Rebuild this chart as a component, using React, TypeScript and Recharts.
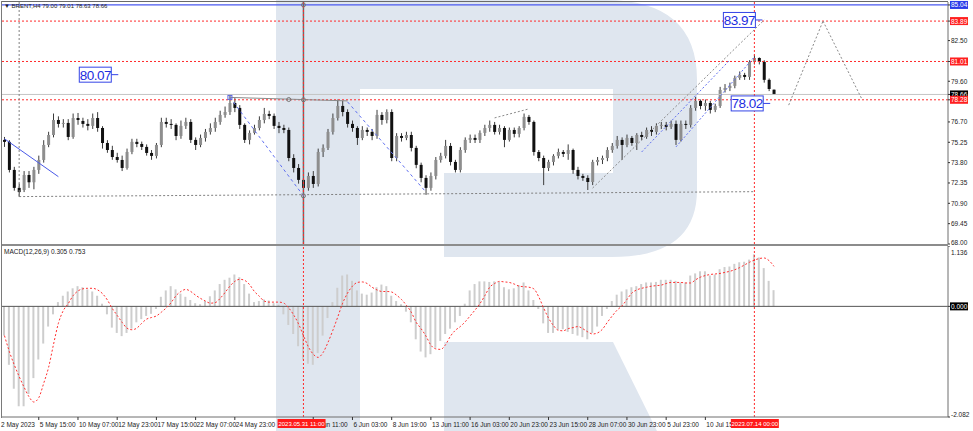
import React from 'react';
import { ComposedChart, Bar, Line, XAxis, YAxis, ReferenceLine, ReferenceDot } from 'recharts';

const FONT = '"Liberation Sans", Arial, sans-serif';
const W = 973;

// BRENT candles (one per 8h, 2 May – 14 Jul 2023)
const openP = [
  75.42, 75.28, 73.28, 72.0, 71.85, 72.92, 72.4, 73.28, 73.99, 75.06,
  75.77, 76.84, 76.56, 76.63, 75.63, 76.98, 76.77, 76.56, 76.42, 76.98,
  76.27, 75.2, 74.7, 74.2, 73.99, 73.42, 74.56, 75.28, 75.13, 74.92,
  74.49, 74.28, 75.06, 76.7, 76.56, 76.49, 75.7, 76.42, 76.7, 75.42,
  75.06, 75.56, 75.99, 76.27, 76.7, 77.2, 77.41, 78.05, 77.7, 76.49,
  75.42, 75.92, 76.27, 76.84, 77.27, 77.13, 76.42, 76.27, 76.13, 74.13,
  73.42, 72.57, 72.0, 72.85, 72.28, 74.56, 74.85, 75.99, 76.98, 77.84,
  77.41, 76.56, 76.27, 75.56, 76.13, 75.99, 75.7, 77.2, 76.84, 77.41,
  74.13, 75.7, 75.56, 75.77, 74.85, 73.64, 72.71, 72.0, 72.85, 73.99,
  74.28, 74.99, 73.85, 73.28, 74.7, 75.42, 75.56, 75.42, 75.92, 76.27,
  76.49, 75.99, 76.27, 75.42, 76.13, 75.85, 76.27, 77.06, 76.7, 74.56,
  74.13, 73.42, 73.85, 74.28, 74.56, 74.42, 74.7, 73.28, 72.85, 72.71,
  72.42, 73.85, 73.99, 74.13, 74.7, 74.99, 75.42, 75.06, 75.56, 75.2,
  75.77, 75.63, 76.13, 75.99, 76.42, 76.49, 76.35, 76.56, 75.42, 76.56,
  76.49, 77.7, 78.2, 77.84, 78.05, 77.56, 77.84, 78.98, 79.12, 79.27,
  79.84, 80.05, 79.91, 80.98, 81.26, 80.98, 79.7, 79.0,
];
const highP = [
  75.63, 75.4, 73.5, 72.3, 73.2, 73.2, 73.5, 74.3, 75.4, 76.0,
  77.3, 77.1, 76.9, 76.9, 77.3, 77.34, 77.0, 76.9, 77.3, 77.4,
  76.4, 75.4, 75.0, 74.5, 74.3, 74.8, 75.5, 75.5, 75.3, 75.1,
  74.7, 75.2, 77.0, 77.0, 76.9, 76.6, 76.8, 77.0, 76.9, 75.6,
  75.8, 76.2, 76.6, 77.0, 77.5, 77.8, 78.6, 78.4, 77.9, 76.6,
  76.1, 76.5, 77.1, 77.7, 77.5, 77.3, 76.7, 76.5, 76.3, 74.4,
  73.7, 72.9, 73.1, 73.2, 74.8, 75.1, 76.2, 77.3, 78.3, 78.2,
  77.6, 76.8, 76.4, 76.4, 76.3, 76.2, 77.56, 77.4, 77.6, 77.6,
  75.9, 75.9, 76.0, 76.0, 75.0, 73.8, 72.9, 73.1, 74.2, 74.5,
  75.42, 75.2, 74.0, 74.9, 75.6, 75.8, 75.8, 76.1, 76.5, 76.8,
  76.7, 76.5, 76.4, 76.3, 76.3, 76.4, 77.3, 77.2, 76.8, 74.7,
  74.3, 74.0, 74.4, 74.8, 74.7, 75.1, 74.8, 73.5, 73.0, 72.9,
  74.0, 74.2, 74.3, 74.9, 75.2, 75.7, 75.6, 75.8, 75.7, 75.9,
  76.0, 76.3, 76.4, 76.6, 76.7, 76.7, 76.8, 76.8, 76.8, 76.8,
  77.9, 78.48, 78.3, 78.3, 78.2, 78.0, 79.2, 79.4, 79.5, 80.0,
  80.3, 80.2, 81.1, 81.5, 81.3, 81.1, 79.8, 79.01,
];
const lowP = [
  74.92, 73.1, 71.8, 71.35, 71.7, 72.0, 71.9, 73.0, 73.8, 74.9,
  75.6, 76.3, 76.3, 75.4, 75.5, 76.5, 76.3, 76.1, 76.2, 76.0,
  74.8, 74.5, 74.0, 73.8, 73.2, 73.3, 74.4, 74.9, 74.7, 74.3,
  74.0, 74.1, 74.9, 76.3, 76.2, 75.4, 75.5, 76.2, 75.2, 74.7,
  74.9, 75.3, 75.8, 76.0, 76.5, 77.0, 77.2, 77.4, 76.2, 75.2,
  75.1, 75.8, 76.1, 76.6, 76.9, 76.2, 75.9, 75.9, 73.9, 73.1,
  72.3, 71.35, 71.8, 72.0, 72.1, 74.2, 74.7, 75.8, 76.8, 77.1,
  76.3, 76.0, 75.06, 75.4, 75.7, 75.4, 75.5, 76.5, 76.6, 73.9,
  73.9, 75.3, 75.4, 74.6, 73.4, 72.4, 71.5, 71.8, 72.6, 73.8,
  74.1, 73.6, 73.1, 73.1, 74.5, 75.2, 75.2, 75.2, 75.7, 76.0,
  75.8, 75.8, 74.9, 75.3, 75.6, 75.6, 76.1, 76.5, 74.3, 73.9,
  72.2, 73.2, 73.6, 74.1, 74.2, 74.0, 73.0, 72.6, 72.5, 71.85,
  72.2, 73.6, 73.7, 73.9, 74.5, 74.8, 74.0, 74.9, 75.0, 74.7,
  75.4, 75.5, 75.7, 75.8, 76.2, 76.1, 76.2, 75.06, 75.3, 76.2,
  76.3, 77.5, 77.6, 77.5, 77.3, 77.4, 77.7, 78.8, 78.9, 79.1,
  79.7, 79.7, 79.7, 80.8, 80.8, 79.5, 78.9, 78.63,
];
const closeP = [
  75.28, 73.28, 72.0, 71.7, 72.92, 72.4, 73.28, 73.99, 75.06, 75.77,
  76.84, 76.56, 76.63, 75.63, 76.98, 76.84, 76.56, 76.42, 76.98, 76.27,
  75.2, 74.7, 74.2, 73.99, 73.42, 74.56, 75.28, 75.13, 74.92, 74.49,
  74.28, 75.06, 76.7, 76.56, 76.49, 75.7, 76.42, 76.7, 75.42, 75.06,
  75.56, 75.99, 76.27, 76.7, 77.2, 77.41, 78.05, 77.7, 76.49, 75.42,
  75.92, 76.27, 76.84, 77.27, 77.13, 76.42, 76.27, 76.13, 74.13, 73.42,
  72.57, 72.0, 72.85, 72.28, 74.56, 74.85, 75.99, 76.98, 77.84, 77.41,
  76.56, 76.27, 75.56, 76.13, 75.99, 75.7, 77.2, 76.84, 77.41, 74.13,
  75.7, 75.56, 75.77, 74.85, 73.64, 72.71, 72.0, 72.85, 73.99, 74.28,
  74.99, 73.85, 73.28, 74.7, 75.42, 75.56, 75.42, 75.92, 76.27, 76.49,
  75.99, 76.27, 75.42, 76.13, 75.85, 76.27, 77.06, 76.7, 74.56, 74.13,
  73.42, 73.85, 74.28, 74.56, 74.42, 74.7, 73.28, 72.85, 72.71, 72.42,
  73.85, 73.99, 74.13, 74.7, 74.99, 75.42, 75.06, 75.56, 75.2, 75.77,
  75.63, 76.13, 75.99, 76.42, 76.49, 76.35, 76.56, 75.42, 76.56, 76.49,
  77.7, 78.2, 77.84, 78.05, 77.56, 77.84, 78.98, 79.12, 79.27, 79.84,
  80.05, 79.91, 80.98, 81.26, 80.98, 79.7, 79.05, 78.66,
];

// MACD(12,26,9): histogram and signal
const macdHist = [
  -0.55, -1.1, -1.55, -1.88, -1.88, -1.65, -1.35, -1.0, -0.7, -0.38,
  -0.15, 0.08, 0.2, 0.28, 0.34, 0.38, 0.36, 0.32, 0.28, 0.2,
  0.05, -0.15, -0.4, -0.5, -0.56, -0.5, -0.42, -0.3, -0.24, -0.18,
  -0.14, -0.05, 0.18, 0.3, 0.38, 0.32, 0.24, 0.18, 0.12, 0.06,
  0.04, 0.1, 0.19, 0.3, 0.42, 0.5, 0.54, 0.6, 0.55, 0.42,
  0.24, 0.08, 0.1, 0.13, 0.11, 0.06, 0.03, -0.15, -0.35, -0.52,
  -0.75, -1.0, -1.08, -1.1, -0.88, -0.55, -0.22, 0.08, 0.35, 0.58,
  0.6, 0.48, 0.3, 0.24, 0.22, 0.26, 0.36, 0.41, 0.38, 0.2,
  0.1, 0.04, -0.1, -0.3, -0.62, -0.85, -0.96, -0.9, -0.78, -0.65,
  -0.52, -0.42, -0.3, -0.18, 0.05, 0.3, 0.42, 0.47, 0.47, 0.46,
  0.47, 0.46, 0.36, 0.32, 0.34, 0.4, 0.45, 0.3, 0.12, -0.05,
  -0.32, -0.5, -0.5, -0.44, -0.43, -0.48, -0.52, -0.55, -0.58, -0.62,
  -0.5, -0.38, -0.18, -0.05, 0.1, 0.22, 0.28, 0.32, 0.36, 0.38,
  0.42, 0.45, 0.45, 0.46, 0.5, 0.5, 0.5, 0.48, 0.45, 0.45,
  0.58, 0.62, 0.66, 0.66, 0.58, 0.6, 0.7, 0.74, 0.75, 0.8,
  0.83, 0.84, 0.88, 0.98, 0.92, 0.72, 0.48, 0.305,
];
const macdSignal = [
  -0.55, -0.85, -1.1, -1.32, -1.52, -1.7, -1.8, -1.72, -1.45, -1.15,
  -0.72, -0.32, -0.08, 0.05, 0.2, 0.29, 0.33, 0.34, 0.34, 0.31,
  0.24, 0.12, -0.04, -0.17, -0.3, -0.41, -0.44, -0.41, -0.32, -0.24,
  -0.21, -0.18, -0.11, -0.03, 0.07, 0.2, 0.28, 0.32, 0.28, 0.21,
  0.15, 0.1, 0.06, 0.07, 0.15, 0.26, 0.38, 0.47, 0.51, 0.49,
  0.41, 0.28, 0.19, 0.1, 0.08, 0.08, 0.08, 0.06, -0.03, -0.16,
  -0.33, -0.55, -0.76, -0.9, -0.96, -0.87, -0.68, -0.45, -0.2, 0.06,
  0.25, 0.38, 0.45, 0.46, 0.43, 0.36, 0.31, 0.28, 0.28, 0.27,
  0.21, 0.13, 0.02, -0.11, -0.3, -0.42, -0.56, -0.73, -0.8, -0.81,
  -0.72, -0.56, -0.45, -0.38, -0.29, -0.18, -0.07, 0.05, 0.2, 0.36,
  0.43, 0.47, 0.46, 0.45, 0.42, 0.38, 0.37, 0.36, 0.33, 0.18,
  -0.03, -0.22, -0.36, -0.45, -0.46, -0.42, -0.4, -0.38, -0.42, -0.48,
  -0.52, -0.5, -0.43, -0.3, -0.18, -0.07, 0.01, 0.13, 0.25, 0.31,
  0.34, 0.36, 0.38, 0.39, 0.4, 0.43, 0.45, 0.45, 0.45, 0.44,
  0.44, 0.5, 0.55, 0.58, 0.6, 0.61, 0.62, 0.64, 0.66, 0.69,
  0.73, 0.78, 0.83, 0.87, 0.9, 0.91, 0.86, 0.753,
];
const FUTURE_SLOTS = 35;

// time axis (labels hidden under the crosshair tags are left out)
const timeTickIdx = [0, 7, 15, 23, 31, 39, 47, 63, 71, 79, 87, 95, 103, 111, 119, 127, 135, 143];
const timeTickText = [
  '2 May 2023', '5 May 15:00', '10 May 07:00', '12 May 23:00', '17 May 15:00', '22 May 07:00',
  '24 May 23:00', '1 Jun 11:00', '6 Jun 03:00', '8 Jun 19:00', '13 Jun 11:00',
  '16 Jun 03:00', '20 Jun 23:00', '23 Jun 15:00', '28 Jun 07:00', '30 Jun 23:00', '5 Jul 23:00',
  '10 Jul 15:00',
];
const crossIdx = [61, 153];
const crossText = ['2023.05.31 11:00', '2023.07.14 00:00'];

// price axis
const priceTicks = [68, 69.45, 70.9, 72.35, 73.8, 75.25, 76.7, 79.6, 82.5];
const levelPrices = [85.04, 83.89, 81.01, 78.66, 78.28];
const levelColor: Record<string, string> = {
  '85.04': '#2b3ce8', '83.89': '#ff1f1f', '81.01': '#ff1f1f', '78.66': '#000000', '78.28': '#ff1f1f',
};
const macdTicks = [1.136, 0, -2.082];

const rows = Array.from({ length: closeP.length + FUTURE_SLOTS }, (_, i) =>
  i < closeP.length
    ? { i, range: [lowP[i], highP[i]], o: openP[i], h: highP[i], l: lowP[i], c: closeP[i], hist: macdHist[i], signal: macdSignal[i] }
    : { i }
);

const RED = '#ff2a2a';
const BLUE = '#3444e6';

const Candle = (props: any) => {
  const { x, y, width, height, payload } = props;
  if (payload == null || payload.o == null) return null;
  const { o, h, l, c } = payload;
  const top = Math.min(y, y + height);
  const hh = Math.abs(height);
  const span = h - l || 1;
  const py = (v: number) => top + ((h - v) / span) * hh;
  const cx = x + width / 2;
  const bTop = py(Math.max(o, c));
  const bBot = py(Math.min(o, c));
  const up = c >= o;
  return (
    <g>
      <line x1={cx} x2={cx} y1={top} y2={top + hh} stroke="#3c3c3c" strokeWidth={1} />
      <rect x={x} y={bTop} width={width} height={Math.max(1, bBot - bTop)} fill={up ? '#8e8e8e' : '#111'} />
    </g>
  );
};

const PriceTick = (props: any) => {
  const { x, y, payload } = props;
  const v = payload.value;
  const key = v.toFixed(2);
  const bg = levelColor[key];
  if (bg) {
    return (
      <g>
        <rect x={x - 1} y={y - 4} width={18} height={8} fill={bg} />
        <text x={x} y={y + 2.5} fill="#fff" fontSize={6.5} fontFamily={FONT}>{key}</text>
      </g>
    );
  }
  const dy = v === 68 ? -2 : 0;
  return <text x={x} y={y + 2.5 + dy} fill="#222" fontSize={6.5} fontFamily={FONT}>{key}</text>;
};

const MacdTick = (props: any) => {
  const { x, y, payload } = props;
  const v = payload.value;
  if (v === 0) {
    return (
      <g>
        <rect x={x - 1} y={y - 4} width={18} height={8} fill="#000" />
        <text x={x} y={y + 2.5} fill="#fff" fontSize={6.5} fontFamily={FONT}>0.000</text>
      </g>
    );
  }
  const dy = v > 0 ? 6 : -3;
  return <text x={x} y={y + 2.5 + dy} fill="#222" fontSize={6.5} fontFamily={FONT}>{v.toFixed(3)}</text>;
};

const TimeTick = (props: any) => {
  const { x, y, payload } = props;
  const k = timeTickIdx.indexOf(payload.value);
  const text = timeTickText[k];
  if (payload.value === 0) {
    return <text x={1} y={y + 9.5} fill="#222" fontSize={6.5} fontFamily={FONT}>{text}</text>;
  }
  return (
    <g>
      <line x1={x} x2={x} y1={y} y2={y + 3} stroke="#333" />
      <text x={x + 1} y={y + 9.5} fill="#222" fontSize={6.5} fontFamily={FONT}>{text}</text>
    </g>
  );
};

const TimeTag = (props: any) => {
  const { viewBox, text } = props;
  if (!viewBox) return null;
  const x = viewBox.x;
  const yb = viewBox.y + viewBox.height;
  return (
    <g>
      <rect x={x - 25} y={yb + 2} width={48} height={9} fill="#ff1a1a" />
      <text x={x - 1} y={yb + 9} textAnchor="middle" fill="#fff" fontSize={6} fontFamily={FONT}>{text}</text>
    </g>
  );
};

const PriceBox = (props: any) => {
  const { cx, cy, text, dx = 0 } = props;
  const r = cx + dx;
  return (
    <g>
      <rect x={r - 33} y={cy - 7.5} width={32} height={15} fill="#fff" stroke={BLUE} strokeWidth={1} />
      <text x={r - 17} y={cy + 5} textAnchor="middle" fontSize={13.5} fill="#1d2de0" fontFamily={FONT} letterSpacing={-0.5}>{text}</text>
      <line x1={r - 1} x2={r + 6} y1={cy} y2={cy} stroke={BLUE} />
    </g>
  );
};

const Anchor = (props: any) => {
  const { cx, cy, square } = props;
  if (square) return <rect x={cx - 2} y={cy - 2} width={4} height={4} fill="none" stroke="#5a66e0" />;
  return <circle cx={cx} cy={cy} r={2} fill="none" stroke="#777" />;
};

const Watermark = () => (
  <svg width={W} height={431} style={{ position: 'absolute', left: 0, top: 0 }}>
    <rect x={276} y={0} width={84} height={431} fill="#dfe6ef" />
    <path d="M360,0 H605 Q697,0 697,80 V190 Q697,257 612,257 H444 V173 H613 V89 H360 Z" fill="#dfe6ef" />
    <path d="M444,342 H613 L657,431 H444 Z" fill="#dfe6ef" />
  </svg>
);

export default function App() {
  return (
    <div style={{ position: 'relative', width: W, height: 431, background: '#fff', fontFamily: FONT, overflow: 'hidden' }}>
      <style>{`body{margin:0}`}</style>
      <Watermark />

      {/* price pane */}
      <div style={{ position: 'absolute', left: 0, top: 0 }}>
        <ComposedChart width={W} height={245} data={rows} margin={{ top: 2, right: 0, bottom: 1, left: 2 }} barCategoryGap={0}>
          <XAxis dataKey="i" type="category" hide />
          <YAxis
            orientation="right" width={25} domain={[68, 85.25]} type="number"
            ticks={[...priceTicks, ...levelPrices]} interval={0}
            tick={<PriceTick />} tickSize={2} tickMargin={1}
            tickLine={{ stroke: '#333' }} axisLine={{ stroke: '#6e6e6e' }}
          />
          <ReferenceLine y={85.04} stroke="#4a58f0" strokeWidth={1.2} />
          <ReferenceLine y={83.89} stroke={RED} strokeDasharray="2 2" />
          <ReferenceLine y={81.01} stroke={RED} strokeDasharray="2 2" />
          <ReferenceLine y={78.66} stroke="#c4c4c4" />
          <ReferenceLine y={78.28} stroke={RED} strokeDasharray="2 2" />
          <ReferenceLine x={61} stroke="#6a6a6a" strokeWidth={1.5} />
          <ReferenceLine x={61} stroke={RED} strokeDasharray="2 2" />
          <ReferenceLine x={153} stroke={RED} strokeDasharray="2 2" />

          <ReferenceLine segment={[{ x: 3, y: 85.25 }, { x: 3, y: 71.38 }]} stroke="#808080" strokeDasharray="2 2" />
          <ReferenceLine segment={[{ x: 3, y: 71.38 }, { x: 153, y: 71.73 }]} stroke="#808080" strokeDasharray="2 2" />
          <ReferenceLine segment={[{ x: 0, y: 75.5 }, { x: 11, y: 72.8 }]} stroke="#4a5ae8" />
          <ReferenceLine segment={[{ x: 46, y: 78.45 }, { x: 70, y: 78.2 }]} stroke="#8a8a8a" />
          <ReferenceLine segment={[{ x: 46, y: 78.45 }, { x: 61, y: 71.43 }]} stroke="#6070f0" strokeDasharray="3 3" />
          <ReferenceLine segment={[{ x: 70, y: 78.13 }, { x: 86, y: 71.7 }]} stroke="#6070f0" strokeDasharray="3 3" />
          <ReferenceLine segment={[{ x: 100, y: 76.99 }, { x: 107, y: 77.63 }]} stroke="#8a8a8a" strokeDasharray="2 2" />
          <ReferenceLine segment={[{ x: 120, y: 71.99 }, { x: 155, y: 83.97 }]} stroke="#8a8a8a" strokeDasharray="2 2" />
          <ReferenceLine segment={[{ x: 130, y: 74.56 }, { x: 148, y: 81.12 }]} stroke="#6070f0" strokeDasharray="2 2" />
          <ReferenceLine segment={[{ x: 137, y: 74.92 }, { x: 153, y: 81.34 }]} stroke="#6070f0" strokeDasharray="2 2" />
          <ReferenceLine segment={[{ x: 160, y: 77.9 }, { x: 167, y: 83.89 }]} stroke="#8a8a8a" strokeDasharray="2 2" />
          <ReferenceLine segment={[{ x: 167, y: 83.89 }, { x: 175, y: 78.28 }]} stroke="#8a8a8a" strokeDasharray="2 2" />

          <Bar dataKey="range" barSize={3} shape={<Candle />} isAnimationActive={false} />

          <ReferenceDot x={46} y={78.45} r={2} shape={<Anchor square />} />
          <ReferenceDot x={58} y={78.3} r={2} shape={<Anchor />} />
          <ReferenceDot x={61} y={78.28} r={2} shape={<Anchor />} />
          <ReferenceDot x={61} y={71.43} r={2} shape={<Anchor />} />
          <ReferenceDot x={61} y={85.04} r={2} shape={<Anchor />} />
          <ReferenceDot x={22} y={80.07} r={0} shape={<PriceBox text="80.07" />} />
          <ReferenceDot x={153} y={83.97} r={0} shape={<PriceBox text="83.97" dx={2} />} />
          <ReferenceDot x={155} y={78.02} r={0} shape={<PriceBox text="78.02" />} />
        </ComposedChart>
      </div>

      {/* MACD pane */}
      <div style={{ position: 'absolute', left: 0, top: 246 }}>
        <ComposedChart width={W} height={185} data={rows} margin={{ top: 0, right: 0, bottom: 0, left: 2 }} barCategoryGap={0}>
          <XAxis
            dataKey="i" type="category" ticks={timeTickIdx} interval={0} height={14}
            tick={<TimeTick />} tickLine={false} tickSize={0} tickMargin={0}
            axisLine={{ stroke: '#6e6e6e' }}
          />
          <YAxis
            orientation="right" width={25} domain={[-2.082, 1.136]} type="number"
            ticks={macdTicks} interval={0} tick={<MacdTick />} tickSize={2} tickMargin={1}
            tickLine={{ stroke: '#333' }} axisLine={{ stroke: '#6e6e6e' }}
          />
          <ReferenceLine y={0} stroke="#555" />
          {crossIdx.map((ix) => (
            <ReferenceLine key={ix} x={ix} stroke={RED} strokeDasharray="2 2" />
          ))}
          <Bar dataKey="hist" barSize={2} fill="#cdcdcd" isAnimationActive={false} />
          <Line dataKey="signal" type="monotone" stroke="#ff3030" strokeWidth={1} strokeDasharray="2 2" dot={false} isAnimationActive={false} />
        </ComposedChart>
      </div>

      {/* crosshair time tags, drawn above the axis labels with the same layout */}
      <div style={{ position: 'absolute', left: 0, top: 246 }}>
        <ComposedChart width={W} height={185} data={rows} margin={{ top: 0, right: 0, bottom: 0, left: 2 }} barCategoryGap={0}>
          <XAxis dataKey="i" type="category" height={14} tick={false} axisLine={false} tickLine={false} />
          <YAxis orientation="right" width={25} domain={[-2.082, 1.136]} type="number" tick={false} axisLine={false} tickLine={false} />
          <Line dataKey="signal" stroke="transparent" dot={false} isAnimationActive={false} />
          {crossIdx.map((ix, k) => (
            <ReferenceLine key={ix} x={ix} stroke="transparent" label={<TimeTag text={crossText[k]} />} />
          ))}
        </ComposedChart>
      </div>

      {/* frame */}
      <div style={{ position: 'absolute', left: 2, top: 1, width: 946, height: 1, background: '#6a6a6a' }} />
      <div style={{ position: 'absolute', left: 1, top: 1, width: 1, height: 417, background: '#7a7a7a' }} />
      <div style={{ position: 'absolute', left: 2, top: 244, width: 946, height: 2, background: '#8c8c8c' }} />

      <div style={{ position: 'absolute', left: 4, top: 2, fontSize: 6, color: '#222', whiteSpace: 'nowrap', lineHeight: '8px' }}>
        ▼ BRENT,H4 79.00 79.01 78.63 78.66
      </div>
      <div style={{ position: 'absolute', left: 4, top: 248, fontSize: 6.5, color: '#222', whiteSpace: 'nowrap', lineHeight: '8px' }}>
        MACD(12,26,9) 0.305 0.753
      </div>
    </div>
  );
}
